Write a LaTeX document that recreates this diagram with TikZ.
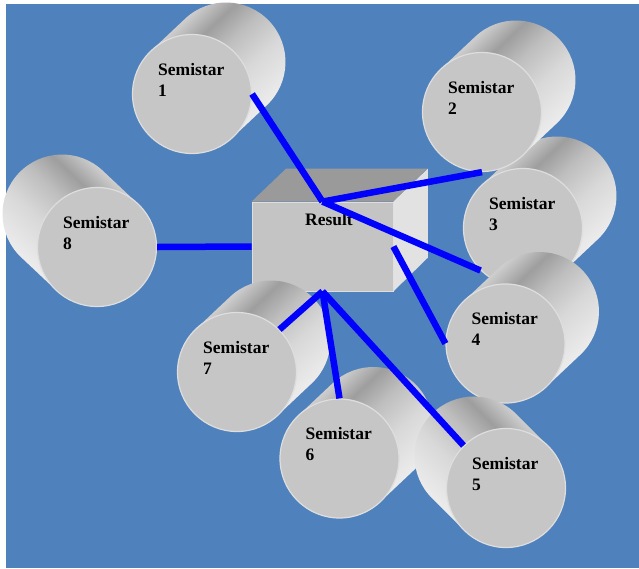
\documentclass[tikz,border=0pt]{standalone}
\usepackage{fontspec}
\setmainfont{Liberation Serif}
\definecolor{bg}{RGB}{79,129,189}
\definecolor{facec}{RGB}{198,198,198}
\definecolor{rimc}{RGB}{222,222,222}
\definecolor{cA}{RGB}{206,206,206}
\definecolor{cD}{RGB}{158,158,158}
\definecolor{cM}{RGB}{190,190,190}
\definecolor{cL}{RGB}{216,216,216}
\definecolor{cB}{RGB}{236,236,236}
\definecolor{boxfront}{RGB}{196,196,196}
\definecolor{boxtop}{RGB}{154,154,154}
\definecolor{boxside}{RGB}{226,226,226}
\definecolor{linkc}{RGB}{0,0,255}
\pgfdeclareverticalshading{cylsh}{100bp}{color(0bp)=(cB); color(25bp)=(cB); color(42bp)=(cL); color(55bp)=(cM); color(65bp)=(cD); color(75bp)=(cA); color(100bp)=(cA)}
\newcommand\cylbody[5]{%
  \begin{scope}[transform canvas={shift={(#1,#2)},rotate=#3}]
    \shade[shading=cylsh,shading angle=#5] (0,-59.5) -- (#4,-59.5) arc[start angle=-90,end angle=90,radius=59.5] -- (0,59.5) -- cycle;
  \end{scope}}
\tikzset{
  face/.style={circle,minimum size=119pt,inner sep=0pt,fill=facec,draw=rimc,line width=1.2pt},
  lbl/.style={font=\fontsize{17.5}{21}\selectfont\bfseries,align=left,inner sep=0pt,text=black},
  boxf/.style={rectangle,minimum width=141pt,minimum height=89pt,inner sep=0pt,fill=boxfront,draw=rimc,line width=0.8pt},
  link/.style={draw=linkc,line width=6.5pt}
}
\begin{document}
\begin{tikzpicture}[x=1pt,y=-1pt]
\useasboundingbox (0,0) rectangle (639,568);
\fill[bg] (6,4) rectangle (639,568);
% Result box
\node[boxf] (res) at (322.5,246.5) {};
\fill[boxtop] (res.north west) -- ++(34.5,-33) -- ++(141,0) -- (res.north east) -- cycle;
\fill[boxside] (res.north east) -- ++(34.5,-33) -- ++(0,89) -- (res.south east) -- cycle;
\node[lbl] (rl) at (329,220) {Result};
% cylinder 1
\cylbody{192}{94}{43.3}{46.7}{0}
\node[face] (c1) at (192,94) {};
\node[lbl,anchor=north west] (t1) at (158,63) {Semistar\\1};
% cylinder 8
\cylbody{97}{247}{136.7}{48.1}{180}
\node[face] (c8) at (97,247) {};
\node[lbl,anchor=north west] (t8) at (63,216) {Semistar\\8};
% cylinder 3
\cylbody{523}{228}{43.3}{46.7}{0}
\node[face] (c3) at (523,228) {};
\node[lbl,anchor=north west] (t3) at (489,197) {Semistar\\3};
% cylinder 2
\cylbody{482}{112}{43.3}{46.7}{0}
\node[face] (c2) at (482,112) {};
\node[lbl,anchor=north west] (t2) at (448,81) {Semistar\\2};
% cylinder 4
\cylbody{505.5}{343.5}{43.3}{46.7}{0}
\node[face] (c4) at (505.5,343.5) {};
\node[lbl,anchor=north west] (t4) at (471.5,312.5) {Semistar\\4};
% cylinder 7
\cylbody{237}{372}{43.3}{46.7}{0}
\node[face] (c7) at (237,372) {};
\node[lbl,anchor=north west] (t7) at (203,341) {Semistar\\7};
% cylinder 6
\cylbody{339.5}{458.5}{43.3}{46.7}{0}
\node[face] (c6) at (339.5,458.5) {};
\node[lbl,anchor=north west] (t6) at (305.5,427.5) {Semistar\\6};
% cylinder 5
\cylbody{506}{488}{135}{45.3}{180}
\node[face] (c5) at (506,488) {};
\node[lbl,anchor=north west] (t5) at (472,457) {Semistar\\5};
% links
\draw[link] (res.north) -- (c1.east);
\draw[link] (res.north) -- (c2.south);
\draw[link] (res.north) -- (c3.south west);
\draw[link] (res.east) -- (c4.west);
\draw[link] (res.west) -- (c8.east);
\draw[link] (res.south) -- (c7.north east);
\draw[link] (res.south) -- (c6.north);
\draw[link] (res.south) -- (c5.north west);
\end{tikzpicture}
\end{document}
